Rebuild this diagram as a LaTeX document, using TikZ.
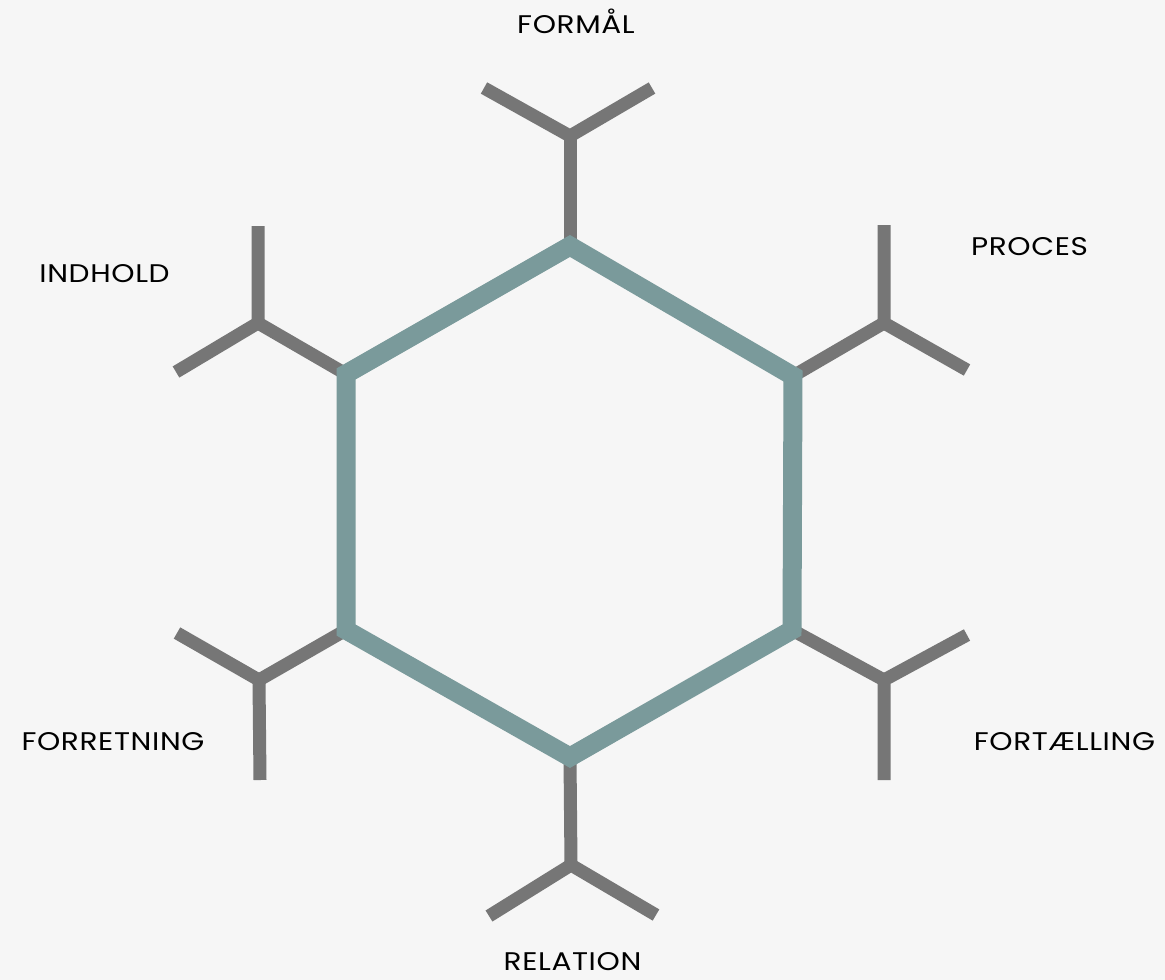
\documentclass[tikz,border=0pt]{standalone}
\usepackage{fontspec}
\setmainfont[FakeStretch=1.16,LetterSpace=2.5]{Poppins}
\usetikzlibrary{calc}
\definecolor{hexcolor}{HTML}{7A9A9B}
\definecolor{branchcolor}{HTML}{767676}
\definecolor{bgcolor}{HTML}{F6F6F6}
\tikzstyle{hexedge}=[draw=hexcolor,line width=19pt,line join=miter]
\tikzstyle{branch}=[draw=branchcolor,line width=13pt,line join=miter]
\tikzstyle{branchname}=[font=\fontsize{25.5}{30}\selectfont,anchor=base,inner sep=0pt]

\begin{document}
\begin{tikzpicture}[x=1pt,y=-1pt]
    % Background and page size
    \fill[bgcolor] (0,0) rectangle (1165,980);
    \useasboundingbox (0,0) rectangle (1165,980);

    % First we place the corners of the hexagon
    \foreach \pos/ \name in {{(570,246)/T},{(793,376)/UR},{(792,630)/LR},{(570,757)/B},{(346,630)/LL},{(346,374)/UL}}
        \path \pos coordinate (\name);

    % Then the forks of the branches
    \foreach \pos/ \name in {{(570,136)/jT},{(884,323)/jUR},{(884,680)/jLR},{(571,865)/jB},{(259,680)/jLL},{(258,323)/jUL}}
        \path \pos coordinate (\name);

    % Tips of the branches
    \foreach \pos/ \name in {{(484,88)/aT},{(652,88)/bT},
                             {(884,225)/aUR},{(967,370)/bUR},
                             {(967,635)/aLR},{(884,780)/bLR},
                             {(489,916)/aB},{(656,915)/bB},
                             {(177,633)/aLL},{(260,780)/bLL},
                             {(258,226)/aUL},{(176,372)/bUL}}
        \path \pos coordinate (\name);

    % Draw the branches
    \foreach \name in {T,UR,LR,B,LL,UL}
        {
        \path[branch] (\name) -- (j\name);
        \path[branch] (a\name) -- (j\name) -- (b\name);
        }

    % Draw the hexagon on top
    \path[hexedge] (T) -- (UR) -- (LR) -- (B) -- (LL) -- (UL) -- cycle;

    % Names of the branches
    \foreach \pos/ \name/ \text in {{(576,33)/nT/FORMÅL},{(1029.5,255)/nUR/PROCES},
                                    {(1064.5,750)/nLR/FORTÆLLING},{(572.5,970)/nB/RELATION},
                                    {(113,750)/nLL/FORRETNING},{(104.5,282)/nUL/INDHOLD}}
        \node[branchname] (\name) at \pos {\text};
\end{tikzpicture}
\end{document}
